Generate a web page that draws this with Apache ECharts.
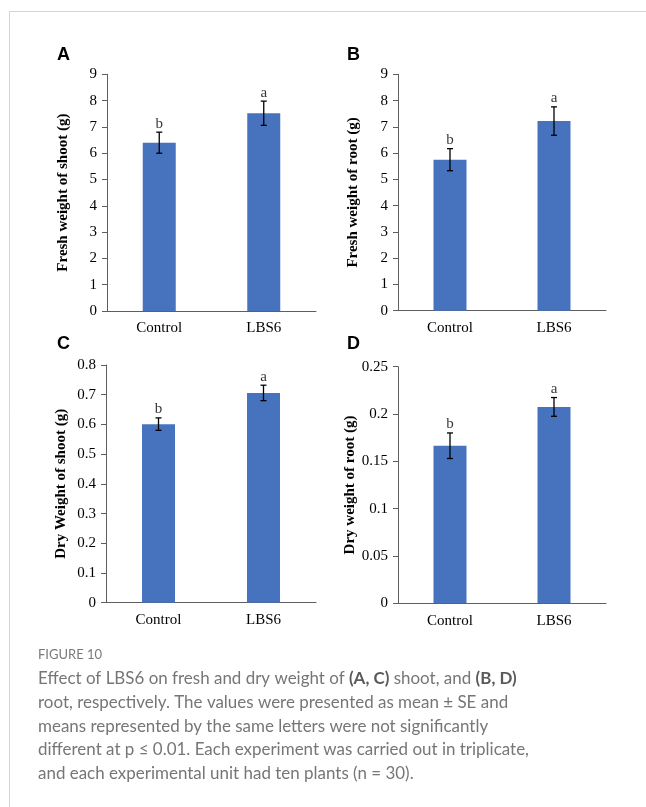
<!DOCTYPE html>
<html>
<head>
<meta charset="utf-8">
<script src="https://cdn.jsdelivr.net/npm/echarts@6/dist/echarts.min.js"></script>
<style>html,body{margin:0;padding:0;background:#fff}#c{width:646px;height:807px}</style>
</head>
<body>
<div id="c"></div>
<script>
// ---- data ----
const categories = ['Control', 'LBS6'];
const panelLetters = ['A', 'B', 'C', 'D'];
const axisTitles = ['Fresh weight of shoot (g)', 'Fresh weight of root (g)', 'Dry Weight of shoot (g)', 'Dry weight of root (g)'];
const freshShootMean = [6.40, 7.52];
const freshShootSE = [0.40, 0.46];
const freshRootMean = [5.75, 7.22];
const freshRootSE = [0.42, 0.54];
const dryShootMean = [0.601, 0.706];
const dryShootSE = [0.021, 0.026];
const dryRootMean = [0.1665, 0.2075];
const dryRootSE = [0.0135, 0.0099];
const sigLetters = [['b', 'a'], ['b', 'a'], ['b', 'a'], ['b', 'a']];
const yMax = [9, 9, 0.8, 0.25];
const yInterval = [1, 1, 0.1, 0.05];
const captionTitle = 'FIGURE 10';
const captionLines = [
  'Effect of LBS6 on fresh and dry weight of {b|(A, C)} shoot, and {b|(B, D)}',
  'root, respectively. The values were presented as mean ± SE and',
  'means represented by the same letters were not significantly',
  'different at p ≤ 0.01. Each experiment was carried out in triplicate,',
  'and each experimental unit had ten plants (n = 30).'
];

const means = [freshShootMean, freshRootMean, dryShootMean, dryRootMean];
const ses = [freshShootSE, freshRootSE, dryShootSE, dryRootSE];

// ---- layout ----
const grids = [
  {left: 107, top: 74.3, width: 209, height: 236.7},
  {left: 398, top: 74.3, width: 208, height: 236.4},
  {left: 106, top: 365, width: 210, height: 237.7},
  {left: 398, top: 366.7, width: 208, height: 236.6}
];
const nameGaps = [36.5, 37.5, 37.5, 39.5];
const letterPos = [[57, 55], [347, 55], [57, 344], [347, 344]];
const serif = '"Liberation Serif", "Times New Roman", serif';
const barColor = '#4672BE';
const axisColor = '#5e5e5e';

const xAxis = [], yAxis = [], series = [];
for (let i = 0; i < 4; i++) {
  xAxis.push({
    type: 'category', gridIndex: i, data: categories,
    axisLine: {lineStyle: {color: axisColor, width: 1}},
    axisTick: {show: false},
    axisLabel: {color: '#000', fontFamily: serif, fontSize: 15, margin: 10}
  });
  yAxis.push({
    type: 'value', gridIndex: i, min: 0, max: yMax[i], interval: yInterval[i],
    name: axisTitles[i], nameLocation: 'middle', nameGap: nameGaps[i], nameRotate: 90,
    nameTextStyle: {color: '#000', fontFamily: serif, fontSize: 15, fontWeight: 'bold'},
    axisLine: {show: true, lineStyle: {color: axisColor, width: 1}},
    axisTick: {show: true, length: 5, lineStyle: {color: axisColor}},
    splitLine: {show: false},
    axisLabel: {color: '#000', fontFamily: serif, fontSize: 15, margin: 10}
  });
  series.push({
    type: 'bar', xAxisIndex: i, yAxisIndex: i, data: means[i],
    barWidth: 33, itemStyle: {color: barColor}, silent: true
  });
  series.push({
    type: 'custom', xAxisIndex: i, yAxisIndex: i,
    data: means[i].map((m, k) => [k, m - ses[i][k], m + ses[i][k]]),
    encode: {x: 0, y: [1, 2]},
    z: 5, silent: true,
    renderItem: function (params, api) {
      const x = api.value(0);
      const pHi = api.coord([x, api.value(2)]);
      const pLo = api.coord([x, api.value(1)]);
      const w = 3;
      const st = {stroke: '#000', lineWidth: 1.3};
      return {type: 'group', children: [
        {type: 'line', shape: {x1: pHi[0], y1: pHi[1], x2: pLo[0], y2: pLo[1]}, style: st},
        {type: 'line', shape: {x1: pHi[0] - w, y1: pHi[1], x2: pHi[0] + w, y2: pHi[1]}, style: st},
        {type: 'line', shape: {x1: pLo[0] - w, y1: pLo[1], x2: pLo[0] + w, y2: pLo[1]}, style: st}
      ]};
    }
  });
  series.push({
    type: 'scatter', xAxisIndex: i, yAxisIndex: i,
    data: means[i].map((m, k) => [k, m + ses[i][k]]),
    symbolSize: 0, silent: true, z: 6,
    label: {
      show: true, position: 'top', distance: 1,
      formatter: (p) => sigLetters[i][p.dataIndex],
      color: '#000', fontFamily: serif, fontSize: 15
    }
  });
}

const graphic = [
  {type: 'rect', shape: {x: 9.5, y: 11.5, width: 800, height: 900}, style: {fill: 'none', stroke: '#d4d4d4', lineWidth: 1}, silent: true}
];
for (let i = 0; i < 4; i++) {
  graphic.push({type: 'text', x: letterPos[i][0], y: letterPos[i][1],
    style: {text: panelLetters[i], font: 'bold 18px "Liberation Sans", Arial, sans-serif', fill: '#000', verticalAlign: 'middle'}});
}
const capFont = 'Lato, "Open Sans", sans-serif';
// scale caption horizontally so line 1 spans reference width
const mc = document.createElement('canvas').getContext('2d');
mc.font = '17px Lato';
const plain1 = captionLines[0].replace(/\{b\|([^}]*)\}/g, '$1');
const w1 = mc.measureText(plain1).width;
const sx = Math.min(1, 478 / w1);
graphic.push({type: 'text', x: 38, y: 655, style: {text: captionTitle, font: '13px ' + capFont, fill: '#7a7a7a', verticalAlign: 'middle'}});
const lineY = [678.3, 702.3, 726.2, 750, 774];
captionLines.forEach((t, k) => {
  graphic.push({type: 'text', x: 38, y: lineY[k], scaleX: sx,
    style: {text: t, fontFamily: capFont, fontSize: 17, fill: '#767676', verticalAlign: 'middle',
      rich: {b: {fontFamily: capFont, fontSize: 17, fontWeight: 'bold', fill: '#5a5a5a'}}}});
});

const chart = echarts.init(document.getElementById('c'), null, {renderer: 'canvas'});
chart.setOption({
  backgroundColor: '#fff',
  animation: false,
  grid: grids,
  xAxis: xAxis,
  yAxis: yAxis,
  series: series,
  graphic: graphic
});
</script>
</body>
</html>
